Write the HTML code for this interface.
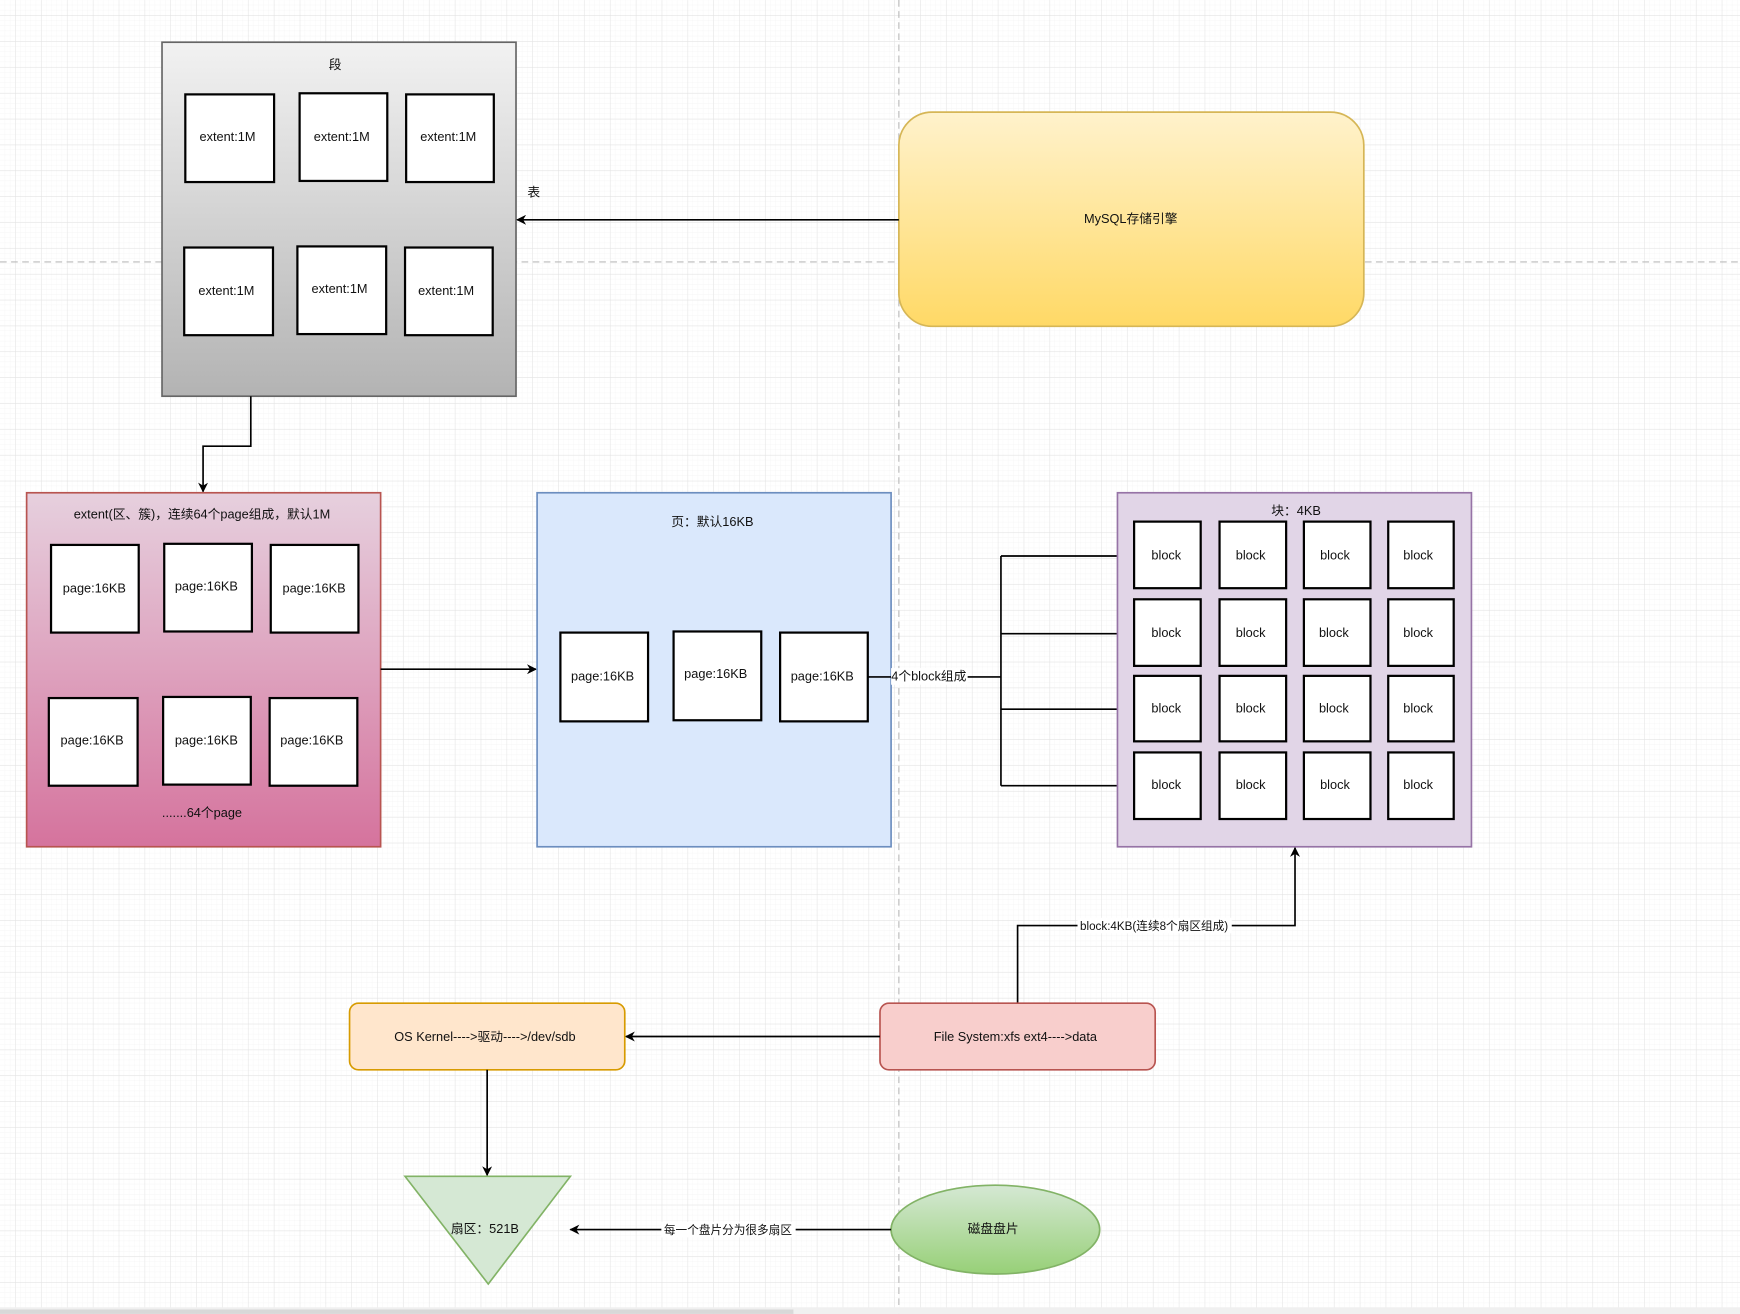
<!DOCTYPE html>
<html><head><meta charset="utf-8"><style>
html,body{margin:0;padding:0;background:#fff;}
svg{display:block;}
text{font-family:"Liberation Sans","Noto Sans CJK SC",sans-serif;font-size:11.5px;fill:#111;}
</style></head><body>
<svg width="1740" height="1314" viewBox="0 0 1568 1184" xmlns="http://www.w3.org/2000/svg">
<defs>
<pattern id="minor" width="4.66" height="4.66" patternUnits="userSpaceOnUse"><path d="M4.66 0V4.66H0" fill="none" stroke="#f4f4f4" stroke-width="0.6"/></pattern>
<pattern id="major" x="-9" y="-9" width="23.3" height="23.3" patternUnits="userSpaceOnUse"><path d="M23.3 0V23.3H0" fill="none" stroke="#e2e2e2" stroke-width="0.8"/></pattern>
<linearGradient id="gGray" x1="0" y1="0" x2="0" y2="1"><stop offset="0" stop-color="#f2f2f2"/><stop offset="1" stop-color="#b3b3b3"/></linearGradient>
<linearGradient id="gYel" x1="0" y1="0" x2="0" y2="1"><stop offset="0" stop-color="#fff2cc"/><stop offset="1" stop-color="#ffd966"/></linearGradient>
<linearGradient id="gPink" x1="0" y1="0" x2="0" y2="1"><stop offset="0" stop-color="#e6d0de"/><stop offset="1" stop-color="#d5739d"/></linearGradient>
<linearGradient id="gGreen" x1="0" y1="0" x2="0" y2="1"><stop offset="0" stop-color="#d5e8d4"/><stop offset="1" stop-color="#97d077"/></linearGradient>
<marker id="ar" viewBox="0 0 10 10" refX="9" refY="5" markerWidth="9" markerHeight="9" markerUnits="userSpaceOnUse" orient="auto"><path d="M0 0L10 5L0 10L3 5Z" fill="#000"/></marker>
</defs>
<rect width="1568" height="1184" fill="url(#minor)"/>
<rect width="1568" height="1184" fill="url(#major)"/>
<line x1="810" y1="0" x2="810" y2="1184" stroke="#bbb" stroke-dasharray="6,4"/>
<line x1="0" y1="236" x2="1568" y2="236" stroke="#bbb" stroke-dasharray="6,4"/>
<rect x="0" y="1178" width="1568" height="6" fill="#f0f0f0"/>
<rect x="0" y="1180" width="715" height="4" fill="#d8d8d8"/>

<!-- 段 -->
<rect x="146" y="38" width="319" height="319" fill="url(#gGray)" stroke="#666" stroke-width="1.5"/>
<text x="302" y="62" text-anchor="middle">段</text>
<g fill="#fff" stroke="#000" stroke-width="2">
<rect x="167" y="85" width="80" height="79"/><rect x="270" y="84" width="79" height="79"/><rect x="366" y="85" width="79" height="79"/>
<rect x="166" y="223" width="80" height="79"/><rect x="268" y="222" width="80" height="79"/><rect x="365" y="223" width="79" height="79"/>
</g>
<text x="205" y="127" text-anchor="middle">extent:1M</text><text x="308" y="127" text-anchor="middle">extent:1M</text><text x="404" y="127" text-anchor="middle">extent:1M</text>
<text x="204" y="266" text-anchor="middle">extent:1M</text><text x="306" y="264" text-anchor="middle">extent:1M</text><text x="402" y="266" text-anchor="middle">extent:1M</text>
<text x="481" y="177" text-anchor="middle">表</text>

<!-- MySQL -->
<rect x="810" y="101" width="419" height="193" rx="30" fill="url(#gYel)" stroke="#d6b656" stroke-width="1.5"/>
<text x="1019" y="201" text-anchor="middle">MySQL存储引擎</text>
<line x1="810" y1="198" x2="466" y2="198" stroke="#000" stroke-width="1.5" marker-end="url(#ar)"/>

<!-- connector 段 -> extent -->
<path d="M226 357V402H183V443" fill="none" stroke="#000" stroke-width="1.5" marker-end="url(#ar)"/>

<!-- extent pink -->
<rect x="24" y="444" width="319" height="319" fill="url(#gPink)" stroke="#b85450" stroke-width="1.5"/>
<text x="182" y="467" text-anchor="middle">extent(区、簇)，连续64个page组成，默认1M</text>
<g fill="#fff" stroke="#000" stroke-width="2">
<rect x="46" y="491" width="79" height="79"/><rect x="148" y="490" width="79" height="79"/><rect x="244" y="491" width="79" height="79"/>
<rect x="44" y="629" width="80" height="79"/><rect x="147" y="628" width="79" height="79"/><rect x="243" y="629" width="79" height="79"/>
</g>
<text x="85" y="534" text-anchor="middle">page:16KB</text><text x="186" y="532" text-anchor="middle">page:16KB</text><text x="283" y="534" text-anchor="middle">page:16KB</text>
<text x="83" y="671" text-anchor="middle">page:16KB</text><text x="186" y="671" text-anchor="middle">page:16KB</text><text x="281" y="671" text-anchor="middle">page:16KB</text>
<text x="182" y="736" text-anchor="middle">.......64个page</text>
<line x1="343" y1="603" x2="483" y2="603" stroke="#000" stroke-width="1.5" marker-end="url(#ar)"/>

<!-- 页 blue -->
<rect x="484" y="444" width="319" height="319" fill="#dae8fc" stroke="#6c8ebf" stroke-width="1.5"/>
<text x="642" y="474" text-anchor="middle">页：默认16KB</text>
<g fill="#fff" stroke="#000" stroke-width="2">
<rect x="505" y="570" width="79" height="80"/><rect x="607" y="569" width="79" height="80"/><rect x="703" y="570" width="79" height="80"/>
</g>
<text x="543" y="613" text-anchor="middle">page:16KB</text><text x="645" y="611" text-anchor="middle">page:16KB</text><text x="741" y="613" text-anchor="middle">page:16KB</text>

<!-- connectors to blocks -->
<g fill="none" stroke="#000" stroke-width="1.5">
<path d="M782 610H902"/>
<path d="M902 501V708"/>
<path d="M902 501H1021" marker-end="url(#ar)"/>
<path d="M902 571H1021" marker-end="url(#ar)"/>
<path d="M902 639H1021" marker-end="url(#ar)"/>
<path d="M902 708H1021" marker-end="url(#ar)"/>
</g>
<rect x="803" y="602" width="69" height="15" fill="#fff"/>
<text x="837" y="613" text-anchor="middle">4个block组成</text>

<!-- 块 -->
<rect x="1007" y="444" width="319" height="319" fill="#e1d5e7" stroke="#9673a6" stroke-width="1.5"/>
<text x="1168" y="464" text-anchor="middle">块：4KB</text>
<g fill="#fff" stroke="#000" stroke-width="2">
<rect x="1022" y="470" width="60" height="60"/><rect x="1099" y="470" width="60" height="60"/><rect x="1175" y="470" width="60" height="60"/><rect x="1251" y="470" width="59" height="60"/>
<rect x="1022" y="540" width="60" height="60"/><rect x="1099" y="540" width="60" height="60"/><rect x="1175" y="540" width="60" height="60"/><rect x="1251" y="540" width="59" height="60"/>
<rect x="1022" y="609" width="60" height="59"/><rect x="1099" y="609" width="60" height="59"/><rect x="1175" y="609" width="60" height="59"/><rect x="1251" y="609" width="59" height="59"/>
<rect x="1022" y="678" width="60" height="60"/><rect x="1099" y="678" width="60" height="60"/><rect x="1175" y="678" width="60" height="60"/><rect x="1251" y="678" width="59" height="60"/>
</g>
<g text-anchor="middle">
<text x="1051" y="504">block</text><text x="1127" y="504">block</text><text x="1203" y="504">block</text><text x="1278" y="504">block</text>
<text x="1051" y="574">block</text><text x="1127" y="574">block</text><text x="1202" y="574">block</text><text x="1278" y="574">block</text>
<text x="1051" y="642">block</text><text x="1127" y="642">block</text><text x="1202" y="642">block</text><text x="1278" y="642">block</text>
<text x="1051" y="711">block</text><text x="1127" y="711">block</text><text x="1203" y="711">block</text><text x="1278" y="711">block</text>
</g>

<!-- File system -->
<path d="M917 904V834H1167V764" fill="none" stroke="#000" stroke-width="1.5" marker-end="url(#ar)"/>
<rect x="971" y="827" width="139" height="14" fill="#fff"/>
<text x="1040" y="838" text-anchor="middle" style="font-size:10.5px">block:4KB(连续8个扇区组成)</text>
<rect x="793" y="904" width="248" height="60" rx="8" fill="#f8cecc" stroke="#b85450" stroke-width="1.5"/>
<text x="915" y="938" text-anchor="middle">File System:xfs ext4----&gt;data</text>
<line x1="793" y1="934" x2="564" y2="934" stroke="#000" stroke-width="1.5" marker-end="url(#ar)"/>
<rect x="315" y="904" width="248" height="60" rx="8" fill="#ffe6cc" stroke="#d79b00" stroke-width="1.5"/>
<text x="437" y="938" text-anchor="middle">OS Kernel----&gt;驱动----&gt;/dev/sdb</text>
<line x1="439" y1="964" x2="439" y2="1059" stroke="#000" stroke-width="1.5" marker-end="url(#ar)"/>

<!-- 扇区 triangle -->
<path d="M365 1060H514L440 1157Z" fill="#d5e8d4" stroke="#82b366" stroke-width="1.5"/>
<text x="437" y="1111" text-anchor="middle">扇区：521B</text>

<!-- disk -->
<ellipse cx="897" cy="1108" rx="94" ry="40" fill="url(#gGreen)" stroke="#82b366" stroke-width="1.5"/>
<text x="895" y="1111" text-anchor="middle">磁盘盘片</text>
<line x1="803" y1="1108" x2="514" y2="1108" stroke="#000" stroke-width="1.5" marker-end="url(#ar)"/>
<rect x="596" y="1101" width="121" height="14" fill="#fff"/>
<text x="656" y="1112" text-anchor="middle" style="font-size:10.5px">每一个盘片分为很多扇区</text>
</svg>
</body></html>
